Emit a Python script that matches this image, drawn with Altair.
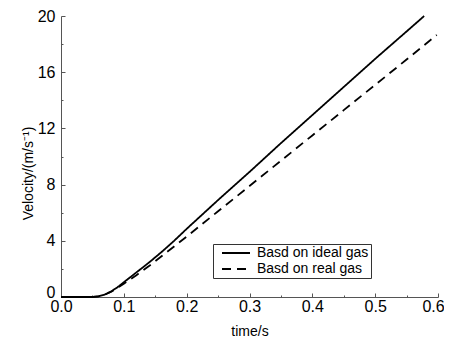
import altair as alt
import pandas as pd

# ---- data ----
t_ideal = [0.0, 0.05, 0.06, 0.07, 0.08, 0.09, 0.10, 0.12, 0.14, 0.16, 0.18, 0.20,
           0.25, 0.30, 0.35, 0.40, 0.45, 0.50, 0.55, 0.578]
v_ideal = [0.0, 0.0, 0.05, 0.18, 0.40, 0.70, 1.05, 1.75, 2.45, 3.20, 4.00, 4.85,
           6.90, 8.90, 10.95, 12.95, 14.95, 16.95, 18.90, 20.0]
t_real = [0.0, 0.05, 0.06, 0.07, 0.08, 0.09, 0.10, 0.12, 0.14, 0.16, 0.18, 0.20,
          0.25, 0.30, 0.35, 0.40, 0.45, 0.50, 0.55, 0.598]
v_real = [0.0, 0.0, 0.05, 0.17, 0.38, 0.65, 0.95, 1.55, 2.20, 2.90, 3.60, 4.30,
          6.10, 7.90, 9.70, 11.50, 13.30, 15.10, 16.90, 18.65]
series_names = ["Basd on ideal gas", "Basd on real gas"]

x_major = [0.0, 0.1, 0.2, 0.3, 0.4, 0.5, 0.6]
x_minor = [0.05, 0.15, 0.25, 0.35, 0.45, 0.55]
y_major = [0, 4, 8, 12, 16, 20]
y_minor = [2, 6, 10, 14, 18]

df = pd.concat([
    pd.DataFrame({"t": t_ideal, "v": v_ideal, "series": series_names[0]}),
    pd.DataFrame({"t": t_real, "v": v_real, "series": series_names[1]}),
], ignore_index=True)

AX = "#555555"
FONT = "Liberation Sans"
xs = alt.Scale(domain=[0, 0.6], nice=False, zero=False)
ys = alt.Scale(domain=[0, 20], nice=False)

base = alt.Chart(df)

lines = base.mark_line(strokeWidth=1.8, color="black").encode(
    x=alt.X("t:Q", scale=xs, axis=alt.Axis(
        orient="bottom", values=x_major, format=".1f", domain=True, domainColor=AX,
        ticks=False, grid=False, labelFontSize=16, labelFont=FONT, labelColor="black",
        labelPadding=1, labelFlush=False,
        labelOffset={"condition": {"test": "datum.value > 0.55", "value": -5}, "value": 0},
        title="time/s", titleFont=FONT, titleFontSize=14,
        titleFontWeight="normal", titleColor="black", titleY=34, titleBaseline="middle")),
    y=alt.Y("v:Q", scale=ys, axis=alt.Axis(
        orient="left", values=y_major, domain=True, domainColor=AX, ticks=False, grid=False,
        labelFontSize=16, labelFont=FONT, labelColor="black", labelPadding=6,
        labelFlush=False,
        labelBaseline={"condition": {"test": "datum.value == 0", "value": "alphabetic"},
                       "value": "middle"},
        title="Velocity/(m/s⁻¹)", titleFont=FONT, titleFontSize=14,
        titleFontWeight="normal", titleColor="black", titleX=-33, titleY=157,
        titleBaseline="middle", titleAlign="center")),
    strokeDash=alt.StrokeDash("series:N",
        scale=alt.Scale(domain=series_names, range=[[1, 0], [9, 6]]),
        legend=alt.Legend(orient="none", legendX=152, legendY=228, title=None,
                          strokeColor="#333333", padding=2, labelFont=FONT,
                          labelFontSize=14, labelColor="black",
                          symbolType="M-1,0H4.6", symbolFillColor="transparent",
                          symbolStrokeColor="black", symbolStrokeWidth=1.8,
                          symbolSize=100, symbolOffset=5, labelOffset=23,
                          rowPadding=2)),
)

major = base.mark_point(opacity=0).encode(
    x=alt.X("t:Q", scale=xs, axis=alt.Axis(orient="bottom", values=x_major, offset=-4,
        tickSize=4, tickColor=AX, labels=False, domain=False, grid=False, title=None)),
    y=alt.Y("v:Q", scale=ys, axis=alt.Axis(orient="left", values=y_major, offset=-4,
        tickSize=4, tickColor=AX, labels=False, domain=False, grid=False, title=None)),
)

minor = base.mark_point(opacity=0).encode(
    x=alt.X("t:Q", scale=xs, axis=alt.Axis(orient="bottom", values=x_minor, offset=-2,
        tickSize=2, tickColor=AX, labels=False, domain=False, grid=False, title=None)),
    y=alt.Y("v:Q", scale=ys, axis=alt.Axis(orient="left", values=y_minor, offset=-2,
        tickSize=2, tickColor=AX, labels=False, domain=False, grid=False, title=None)),
)

chart = alt.layer(lines, major, minor).resolve_axis(
    x="independent", y="independent"
).properties(
    width=377, height=281,
    autosize=alt.AutoSizeParams(type="none"),
    padding={"left": 53, "top": 8, "right": 6, "bottom": 41},
).configure_view(stroke=None)

chart.save("out.html", embed_options={"renderer": "svg", "actions": False})
